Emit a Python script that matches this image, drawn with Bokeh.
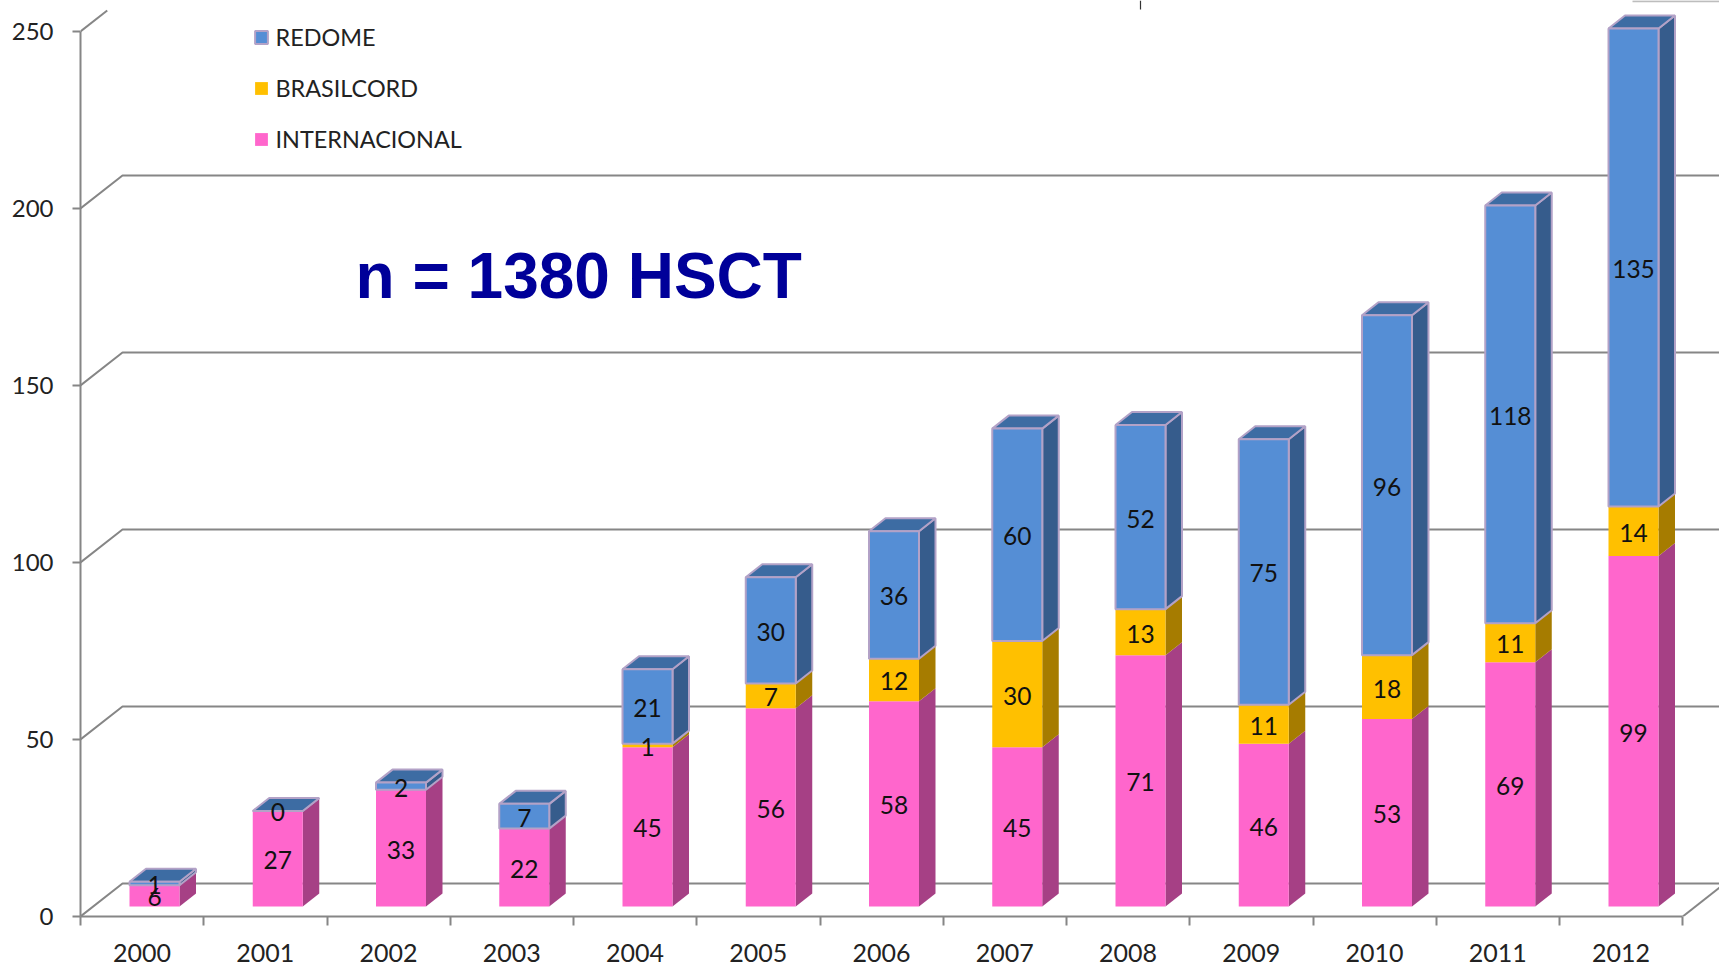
from bokeh.plotting import figure
from bokeh.models import FixedTicker, Label, Legend, LegendItem, Range1d
from bokeh.core.properties import value
from bokeh.embed import file_html
from bokeh.resources import INLINE

YEARS = ["2000", "2001", "2002", "2003", "2004", "2005", "2006", "2007", "2008", "2009", "2010", "2011", "2012"]
INTERNACIONAL = [6, 27, 33, 22, 45, 56, 58, 45, 71, 46, 53, 69, 99]
BRASILCORD = [0, 0, 0, 0, 1, 7, 12, 30, 13, 11, 18, 11, 14]
REDOME = [1, 0, 2, 7, 21, 30, 36, 60, 52, 75, 96, 118, 135]
Y_TICKS = [0, 50, 100, 150, 200, 250]
TITLE = "n = 1380 HSCT"

# page geometry (pixels in the window)
W, H = 1719, 965
AX_L, AX_B = 80, 916
PX_PER_CAT = 123.25
PX_PER_VAL = 3.54
GRID = "#868686"
TXT = "#222222"
FONT = value("Lato")

# 3D projection, in data units
WALL_DX, WALL_DY = 42 / PX_PER_CAT, 33 / PX_PER_VAL
BAR_DX, BAR_DY = 16.5 / PX_PER_CAT, 13 / PX_PER_VAL
BAR_W = 50 / PX_PER_CAT
BAR_OFF = 74 / PX_PER_CAT
FLOOR = 10 / PX_PER_VAL
LABEL_DROP = 1.5 / PX_PER_VAL

x_end = (W - AX_L) / PX_PER_CAT
y_end = AX_B / PX_PER_VAL

p = figure(width=W, height=H, output_backend="svg", toolbar_location=None,
           x_range=Range1d(0, x_end), y_range=Range1d(0, y_end),
           min_border_left=AX_L, min_border_right=0, min_border_top=0,
           min_border_bottom=H - AX_B, outline_line_color=None,
           background_fill_color="white", border_fill_color="white")
p.grid.visible = False

# axes
ax = p.yaxis[0]
ax.ticker = FixedTicker(ticks=Y_TICKS)
ax.bounds = (0, 250)
ax.axis_line_color = GRID
ax.axis_line_width = 2
ax.major_tick_line_color = GRID
ax.major_tick_line_width = 2
ax.major_tick_out = 8
ax.major_tick_in = 0
ax.minor_tick_out = 0
ax.minor_tick_in = 0
ax.major_label_standoff = 19
ax.major_label_text_font = "Lato"
ax.major_label_text_font_size = "24px"
ax.major_label_text_color = TXT

ax = p.xaxis[0]
centres = [i + 0.5 for i in range(len(YEARS))]
ax.ticker = FixedTicker(ticks=centres, minor_ticks=list(range(len(YEARS) + 1)))
ax.major_label_overrides = dict(zip(centres, YEARS))
ax.bounds = (0, len(YEARS))
ax.axis_line_color = GRID
ax.axis_line_width = 2
ax.major_tick_line_color = None
ax.major_tick_out = 0
ax.major_tick_in = 0
ax.minor_tick_line_color = GRID
ax.minor_tick_line_width = 2
ax.minor_tick_out = 9
ax.minor_tick_in = 0
ax.major_label_standoff = 18
ax.major_label_text_font = "Lato"
ax.major_label_text_font_size = "25px"
ax.major_label_text_color = TXT

# walls: diagonals on the left, horizontals at the back, floor edge on the right
xs, ys = [], []
for v in Y_TICKS[:-1]:
    xs.append([0, WALL_DX, x_end])
    ys.append([v, v + WALL_DY, v + WALL_DY])
xs.append([len(YEARS), len(YEARS) + WALL_DX])
ys.append([0, WALL_DY])
# the top diagonal is cut off in the reference
xs.append([0, WALL_DX * 21 / 33])
ys.append([Y_TICKS[-1], Y_TICKS[-1] + WALL_DY * 21 / 33])
p.multi_line(xs, ys, line_color=GRID, line_width=2)
# remains at the upper edge of the reference
p.line([(1632 - AX_L) / PX_PER_CAT, x_end], [y_end - 0.2, y_end - 0.2], line_color="#bdbdbd", line_width=2)
p.line([(1140 - AX_L) / PX_PER_CAT] * 2, [y_end, y_end - 9 / PX_PER_VAL], line_color="#333333", line_width=1.2)

# bars
SERIES = [
    ("INTERNACIONAL", INTERNACIONAL, "#FF66CC", "#A64085", "#A64085", None),
    ("BRASILCORD", BRASILCORD, "#FFC000", "#A67C00", "#A67C00", None),
    ("REDOME", REDOME, "#558ED5", "#365C8C", "#3D6CA3", "#B3A2C7"),
]
bottom = [FLOOR] * len(YEARS)
fronts = {}
labels_x, labels_y, labels_t = [], [], []
for name, vals, front, side, top, edge in SERIES:
    keep = [i for i, v in enumerate(vals) if v > 0 or name == "REDOME"]
    left = [i + BAR_OFF - BAR_W / 2 for i in keep]
    right = [i + BAR_OFF + BAR_W / 2 for i in keep]
    b = [bottom[i] for i in keep]
    t = [bottom[i] + vals[i] for i in keep]
    sx = [[r, r + BAR_DX, r + BAR_DX, r] for r in right]
    sy = [[bb, bb + BAR_DY, tt + BAR_DY, tt] for bb, tt in zip(b, t)]
    lw = 2 if edge else 0
    p.patches(sx, sy, fill_color=side, line_color=edge, line_width=lw)
    if name == "REDOME":
        cx = [[l, l + BAR_DX, r + BAR_DX, r] for l, r in zip(left, right)]
        cy = [[tt, tt + BAR_DY, tt + BAR_DY, tt] for tt in t]
        p.patches(cx, cy, fill_color=top, line_color=edge, line_width=lw)
    fronts[name] = p.quad(left=left, right=right, bottom=b, top=t,
                          fill_color=front, line_color=edge, line_width=lw)
    for i in keep:
        labels_x.append(i + BAR_OFF)
        labels_y.append(bottom[i] + vals[i] / 2 - LABEL_DROP)
        labels_t.append(str(vals[i]))
    bottom = [bb + v for bb, v in zip(bottom, vals)]

p.text(x=labels_x, y=labels_y, text=labels_t, text_font=FONT, text_font_size="24.5px",
       text_color="#111111", text_align="center", text_baseline="middle")

legend = Legend(items=[LegendItem(label=n, renderers=[fronts[n]]) for n in ["REDOME", "BRASILCORD", "INTERNACIONAL"]],
                location=(172.5, 762), orientation="vertical",
                background_fill_alpha=0, border_line_color=None, margin=0, padding=0,
                glyph_width=16, glyph_height=16, label_height=30, label_standoff=7, spacing=21,
                label_text_font="Lato", label_text_font_size="23.4px", label_text_color=TXT)
p.add_layout(legend)

p.add_layout(Label(x=(355 - AX_L) / PX_PER_CAT, y=(AX_B - 275) / PX_PER_VAL, text=TITLE,
                   text_font="Liberation Sans", text_font_style="bold", text_font_size="64px",
                   text_color="#000099", text_baseline="alphabetic"))

open("out.html", "w").write(file_html(p, INLINE))
